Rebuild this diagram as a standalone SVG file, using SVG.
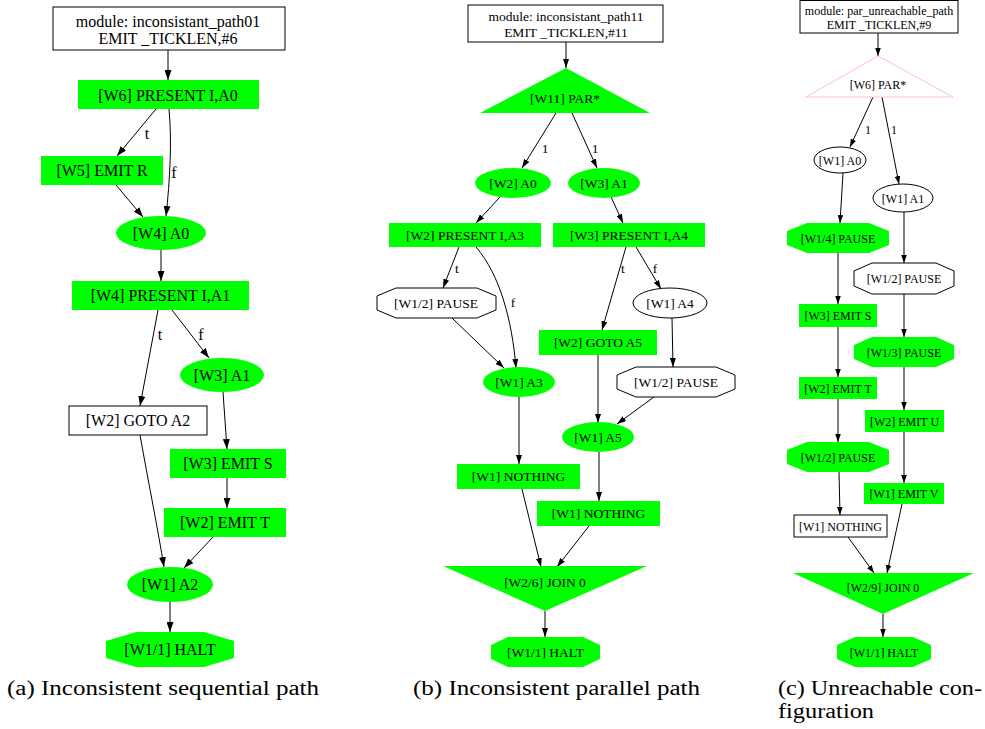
<svg xmlns="http://www.w3.org/2000/svg" width="985" height="729" viewBox="0 0 985 729">
<defs>
<marker id="arA" markerUnits="userSpaceOnUse" markerWidth="10" markerHeight="7" refX="10" refY="3.5" orient="auto"><path d="M0,0 L10,3.5 L0,7 z" fill="#000"/></marker>
<marker id="arB" markerUnits="userSpaceOnUse" markerWidth="9" markerHeight="6" refX="9" refY="3" orient="auto"><path d="M0,0 L9,3 L0,6 z" fill="#000"/></marker>
<marker id="arC" markerUnits="userSpaceOnUse" markerWidth="8" markerHeight="5.6" refX="8" refY="2.8" orient="auto"><path d="M0,0 L8,2.8 L0,5.6 z" fill="#000"/></marker>
</defs>
<style>
text{font-family:"Liberation Serif","Times New Roman",serif;fill:#000;text-anchor:middle}
.fa{font-size:16px}.fb{font-size:13.5px}.fc{font-size:12px}
.g{fill:#00ff00;stroke:none}
.w{fill:#fff;stroke:#000;stroke-width:1}
.pink{fill:#fff;stroke:#ffc0cb;stroke-width:1}
.ea{fill:none;stroke:#000;stroke-width:1;marker-end:url(#arA)}
.eb{fill:none;stroke:#000;stroke-width:1;marker-end:url(#arB)}
.ec{fill:none;stroke:#000;stroke-width:1;marker-end:url(#arC)}
.cap{font-family:"Liberation Serif","Times New Roman",serif;font-size:20px;text-anchor:start}
</style>
<rect width="985" height="729" fill="#fff"/>

<!-- Panel (a) connectors -->
<g id="edges-a">
<path class="ea" d="M168,50 L168,80"/>
<path class="ea" d="M156,109 L117,156"/>
<text class="fa" x="147" y="139">t</text>
<path class="ea" d="M169,109 C172,140 170,180 166,216"/>
<text class="fa" x="174" y="178">f</text>
<path class="ea" d="M116,185 L143,217"/>
<path class="ea" d="M161,250 L161,281"/>
<path class="ea" d="M158,310 L140,406"/>
<text class="fa" x="160" y="340">t</text>
<path class="ea" d="M172,310 L209,358"/>
<text class="fa" x="201" y="340">f</text>
<path class="ea" d="M223,392 L227,449"/>
<path class="ea" d="M227,478 L227,508"/>
<path class="ea" d="M140,435 C148,480 158,530 164,567"/>
<path class="ea" d="M213,537 L184,568"/>
<path class="ea" d="M170,602 L170,632"/>
</g>
<!-- Panel (a) nodes -->
<g id="a_mod"><rect class="w" x="53" y="7" width="232" height="43"/><text class="fa" x="168" y="26.5">module: inconsistant_path01</text><text class="fa" x="168" y="44">EMIT _TICKLEN,#6</text></g>
<g id="a_present0"><rect class="g" x="78" y="80" width="181" height="29"/><text class="fa" x="168" y="100.5">[W6] PRESENT I,A0</text></g>
<g id="a_emitR"><rect class="g" x="41" y="156" width="122" height="29"/><text class="fa" x="102" y="176">[W5] EMIT R</text></g>
<g id="a_A0"><ellipse class="g" cx="161" cy="233" rx="45" ry="17"/><text class="fa" x="161" y="238.5">[W4] A0</text></g>
<g id="a_present1"><rect class="g" x="72" y="281" width="177" height="29"/><text class="fa" x="160.5" y="301">[W4] PRESENT I,A1</text></g>
<g id="a_A1"><ellipse class="g" cx="222" cy="375" rx="42" ry="17"/><text class="fa" x="222" y="380.5">[W3] A1</text></g>
<g id="a_goto"><rect class="w" x="69" y="406" width="138" height="29"/><text class="fa" x="138" y="426">[W2] GOTO A2</text></g>
<g id="a_emitS"><rect class="g" x="170" y="449" width="116" height="29"/><text class="fa" x="228" y="469">[W3] EMIT S</text></g>
<g id="a_emitT"><rect class="g" x="164" y="508" width="122" height="29"/><text class="fa" x="225" y="528">[W2] EMIT T</text></g>
<g id="a_A2"><ellipse class="g" cx="170" cy="584.5" rx="43" ry="17.5"/><text class="fa" x="170" y="590">[W1] A2</text></g>
<g id="a_halt"><polygon class="g" points="136,632 204,632 234,641 234,658 204,667 136,667 106,658 106,641"/><text class="fa" x="170" y="655">[W1/1] HALT</text></g>

<!-- Panel (b) connectors -->
<g id="edges-b">
<path class="eb" d="M566,42 L566,68"/>
<path class="eb" d="M556,113 L522,168"/>
<text class="fb" x="545" y="152.5">1</text>
<path class="eb" d="M572,113 L597,168"/>
<text class="fb" x="595" y="152.5">1</text>
<path class="eb" d="M500,197 L476,223"/>
<path class="eb" d="M611,197 L623,223"/>
<path class="eb" d="M459,247 L443,288"/>
<text class="fb" x="457" y="273">t</text>
<path class="eb" d="M476,247 C500,275 512,320 516,368"/>
<text class="fb" x="513" y="307">f</text>
<path class="eb" d="M452,318 L504,368"/>
<path class="eb" d="M626,247 L602,330"/>
<text class="fb" x="623" y="273">t</text>
<path class="eb" d="M636,247 L661,289"/>
<text class="fb" x="655" y="273">f</text>
<path class="eb" d="M672,318 L673,367"/>
<path class="eb" d="M598,355 L598,423"/>
<path class="eb" d="M654,397 L617,424"/>
<path class="eb" d="M519,397 L519,464"/>
<path class="eb" d="M599,452 L599,501"/>
<path class="eb" d="M522,489 L541,567"/>
<path class="eb" d="M589,526 L557,567"/>
<path class="eb" d="M545,611 L545,637"/>
</g>
<!-- Panel (b) nodes -->
<g id="b_mod"><rect class="w" x="468" y="5" width="195" height="37"/><text class="fb" x="566" y="21">module: inconsistant_path11</text><text class="fb" x="566" y="36.5">EMIT _TICKLEN,#11</text></g>
<g id="b_par"><polygon class="g" points="566,68 650,113 480,113"/><text class="fb" x="565" y="103">[W11] PAR*</text></g>
<g id="b_A0"><ellipse class="g" cx="513" cy="183" rx="38" ry="15"/><text class="fb" x="513" y="188">[W2] A0</text></g>
<g id="b_A1"><ellipse class="g" cx="604" cy="183" rx="36" ry="15"/><text class="fb" x="604" y="188">[W3] A1</text></g>
<g id="b_present3"><rect class="g" x="389" y="223" width="152" height="24"/><text class="fb" x="465" y="240">[W2] PRESENT I,A3</text></g>
<g id="b_present4"><rect class="g" x="553" y="223" width="152" height="24"/><text class="fb" x="629" y="240">[W3] PRESENT I,A4</text></g>
<g id="b_pause1"><polygon class="w" points="396,288 477,288 496,296 496,310 477,318 396,318 377,310 377,296"/><text class="fb" x="436" y="308">[W1/2] PAUSE</text></g>
<g id="b_A4"><ellipse class="w" cx="670" cy="303" rx="37" ry="15"/><text class="fb" x="670" y="308">[W1] A4</text></g>
<g id="b_goto"><rect class="g" x="539" y="330" width="118" height="25"/><text class="fb" x="598" y="347">[W2] GOTO A5</text></g>
<g id="b_A3"><ellipse class="g" cx="519" cy="382" rx="36" ry="15"/><text class="fb" x="519" y="387">[W1] A3</text></g>
<g id="b_pause2"><polygon class="w" points="636,367 716,367 735,375 735,389 716,397 636,397 617,389 617,375"/><text class="fb" x="676" y="387">[W1/2] PAUSE</text></g>
<g id="b_A5"><ellipse class="g" cx="598" cy="437" rx="36" ry="15"/><text class="fb" x="598" y="442">[W1] A5</text></g>
<g id="b_nothing1"><rect class="g" x="457" y="464" width="123" height="25"/><text class="fb" x="518.5" y="481">[W1] NOTHING</text></g>
<g id="b_nothing2"><rect class="g" x="537" y="501" width="123" height="25"/><text class="fb" x="598.5" y="518">[W1] NOTHING</text></g>
<g id="b_join"><polygon class="g" points="443,566 647,566 545,611"/><text class="fb" x="545" y="586.5">[W2/6] JOIN 0</text></g>
<g id="b_halt"><polygon class="g" points="508,637 583,637 600,645 600,659 583,667 508,667 491,659 491,645"/><text class="fb" x="545.5" y="656.5">[W1/1] HALT</text></g>

<!-- Panel (c) connectors -->
<g id="edges-c">
<path class="ec" d="M878,33 L878,56"/>
<path class="ec" d="M873,97 L850,147"/>
<text class="fc" x="868" y="134">1</text>
<path class="ec" d="M882,97 L899,184"/>
<text class="fc" x="894" y="134">1</text>
<path class="ec" d="M843,173 L840,223"/>
<path class="ec" d="M838,253 L838,304"/>
<path class="ec" d="M838,327 L838,377"/>
<path class="ec" d="M838,399 L838,442"/>
<path class="ec" d="M839,472 L840,515"/>
<path class="ec" d="M904,212 L904,263"/>
<path class="ec" d="M904,294 L904,337"/>
<path class="ec" d="M904,367 L904,410"/>
<path class="ec" d="M904,432 L904,483"/>
<path class="ec" d="M848,537 L874,573"/>
<path class="ec" d="M902,504 L887,573"/>
<path class="ec" d="M883,614 L883,637"/>
</g>
<!-- Panel (c) nodes -->
<g id="c_mod"><rect class="w" x="800" y="0.5" width="158" height="32.5"/><text class="fc" x="879" y="14.5">module: par_unreachable_path</text><text class="fc" x="879" y="28.5">EMIT _TICKLEN,#9</text></g>
<g id="c_par"><polygon class="pink" points="878,56 953,97 806,97"/><text class="fc" x="878" y="89">[W6] PAR*</text></g>
<g id="c_A0"><ellipse class="w" cx="840" cy="160" rx="26" ry="13"/><text class="fc" x="840" y="164.5">[W1] A0</text></g>
<g id="c_A1"><ellipse class="w" cx="903" cy="198" rx="30" ry="14"/><text class="fc" x="903" y="202.5">[W1] A1</text></g>
<g id="c_pause4"><polygon class="g" points="807,223 869,223 889,231 889,245 869,253 807,253 787,245 787,231"/><text class="fc" x="838" y="242.5">[W1/4] PAUSE</text></g>
<g id="c_emitS"><rect class="g" x="799" y="304" width="78" height="23"/><text class="fc" x="838" y="320">[W3] EMIT S</text></g>
<g id="c_emitT"><rect class="g" x="799" y="377" width="78" height="22"/><text class="fc" x="838" y="392.5">[W2] EMIT T</text></g>
<g id="c_pause2g"><polygon class="g" points="807,442 869,442 889,450 889,464 869,472 807,472 787,464 787,450"/><text class="fc" x="838" y="461.5">[W1/2] PAUSE</text></g>
<g id="c_nothing"><rect class="w" x="794" y="515" width="93" height="22"/><text class="fc" x="840.5" y="530.5">[W1] NOTHING</text></g>
<g id="c_pause2w"><polygon class="w" points="872,263 936,263 954,271 954,286 936,294 872,294 854,286 854,271"/><text class="fc" x="904" y="283">[W1/2] PAUSE</text></g>
<g id="c_pause3"><polygon class="g" points="872,337 936,337 954,345 954,359 936,367 872,367 854,359 854,345"/><text class="fc" x="904" y="356.5">[W1/3] PAUSE</text></g>
<g id="c_emitU"><rect class="g" x="865" y="410" width="79" height="22"/><text class="fc" x="904.5" y="425.5">[W2] EMIT U</text></g>
<g id="c_emitV"><rect class="g" x="864" y="483" width="80" height="21"/><text class="fc" x="904" y="498">[W1] EMIT V</text></g>
<g id="c_join"><polygon class="g" points="793,573 974,573 883,614"/><text class="fc" x="883" y="592">[W2/9] JOIN 0</text></g>
<g id="c_halt"><polygon class="g" points="855,637 913,637 931,645 931,659 913,667 855,667 837,659 837,645"/><text class="fc" x="884" y="656.5">[W1/1] HALT</text></g>

<!-- Captions -->
<text class="cap" x="7" y="695" textLength="312" lengthAdjust="spacingAndGlyphs">(a) Inconsistent sequential path</text>
<text class="cap" x="413" y="695" textLength="287" lengthAdjust="spacingAndGlyphs">(b) Inconsistent parallel path</text>
<text class="cap" x="778" y="695" textLength="204" lengthAdjust="spacingAndGlyphs">(c) Unreachable con-</text>
<text class="cap" x="778" y="718" textLength="96" lengthAdjust="spacingAndGlyphs">figuration</text>
</svg>
